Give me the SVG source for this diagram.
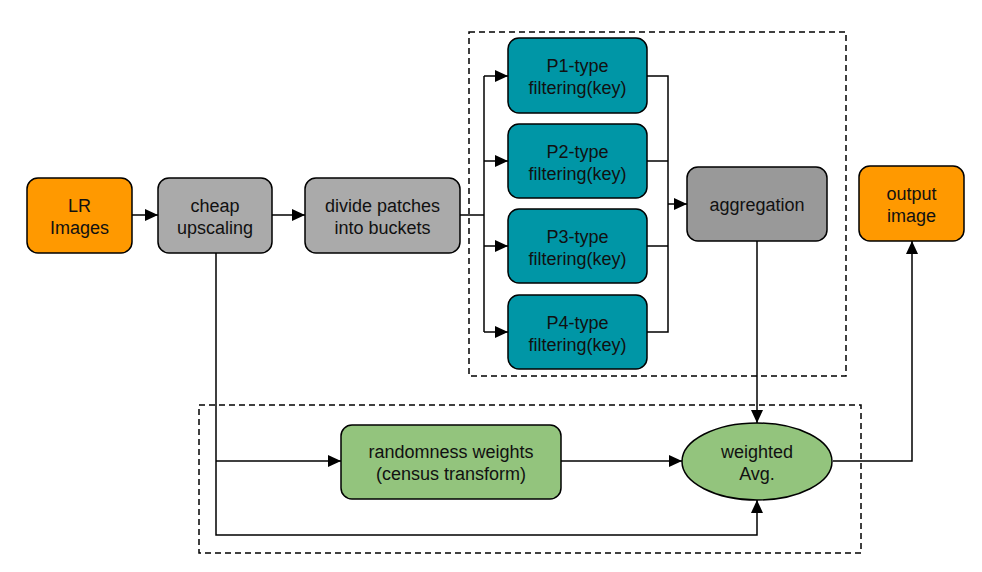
<svg xmlns="http://www.w3.org/2000/svg" width="982" height="572" viewBox="0 0 982 572">
<defs>
<marker id="ah" markerWidth="13" markerHeight="12" refX="13" refY="6" orient="auto" markerUnits="userSpaceOnUse">
<path d="M0,0 L13,6 L0,12 Z" fill="#000"/>
</marker>
<style>
.box{stroke:#000;stroke-width:1.5}
.t{font-family:"Liberation Sans",Arial,sans-serif;font-size:18px;fill:#111;text-anchor:middle}
.c{fill:none;stroke:#000;stroke-width:1.5}
.d{fill:none;stroke:#000;stroke-width:1.5;stroke-dasharray:6,4}
</style>
</defs>
<rect width="982" height="572" fill="#fff"/>
<g id="groups">
<rect class="d" x="469" y="32" width="377" height="344"/>
<rect class="d" x="199" y="405" width="662" height="148"/>
</g>
<g id="connectors">
<path class="c" d="M132,215 H158" marker-end="url(#ah)"/>
<path class="c" d="M272,215 H305" marker-end="url(#ah)"/>
<path class="c" d="M460,215 H484"/>
<path class="c" d="M484,76 V332"/>
<path class="c" d="M484,76 H508" marker-end="url(#ah)"/>
<path class="c" d="M484,161 H508" marker-end="url(#ah)"/>
<path class="c" d="M484,246 H508" marker-end="url(#ah)"/>
<path class="c" d="M484,332 H508" marker-end="url(#ah)"/>
<path class="c" d="M647,76 H668 V332 H647"/>
<path class="c" d="M647,161 H668"/>
<path class="c" d="M647,246 H668"/>
<path class="c" d="M668,204 H687" marker-end="url(#ah)"/>
<path class="c" d="M757,241 V423" marker-end="url(#ah)"/>
<path class="c" d="M216,253 V535 H757 V500" marker-end="url(#ah)"/>
<path class="c" d="M216,461 H341" marker-end="url(#ah)"/>
<path class="c" d="M561,461 H682" marker-end="url(#ah)"/>
<path class="c" d="M833,461 H912 V241" marker-end="url(#ah)"/>
</g>
<g id="lr">
<rect class="box" x="27" y="178" width="105" height="75" rx="11" fill="#FF9900"/>
<text class="t" x="79.5" y="212">LR</text>
<text class="t" x="79.5" y="234">Images</text>
</g>
<g id="cheap">
<rect class="box" x="158" y="178" width="114" height="75" rx="11" fill="#AAAAAA"/>
<text class="t" x="215" y="212">cheap</text>
<text class="t" x="215" y="234">upscaling</text>
</g>
<g id="divide">
<rect class="box" x="305" y="178" width="155" height="75" rx="11" fill="#AAAAAA"/>
<text class="t" x="382.5" y="212">divide patches</text>
<text class="t" x="382.5" y="234">into buckets</text>
</g>
<g id="p1">
<rect class="box" x="508" y="38" width="139" height="75" rx="11" fill="#0096A6"/>
<text class="t" x="577.5" y="72">P1-type</text>
<text class="t" x="577.5" y="94">filtering(key)</text>
</g>
<g id="p2">
<rect class="box" x="508" y="124" width="139" height="74" rx="11" fill="#0096A6"/>
<text class="t" x="577.5" y="158">P2-type</text>
<text class="t" x="577.5" y="180">filtering(key)</text>
</g>
<g id="p3">
<rect class="box" x="508" y="209" width="139" height="74" rx="11" fill="#0096A6"/>
<text class="t" x="577.5" y="243">P3-type</text>
<text class="t" x="577.5" y="265">filtering(key)</text>
</g>
<g id="p4">
<rect class="box" x="508" y="295" width="139" height="74" rx="11" fill="#0096A6"/>
<text class="t" x="577.5" y="329">P4-type</text>
<text class="t" x="577.5" y="351">filtering(key)</text>
</g>
<g id="aggregation">
<rect class="box" x="687" y="167" width="140" height="74" rx="11" fill="#999999"/>
<text class="t" x="757" y="211">aggregation</text>
</g>
<g id="output">
<rect class="box" x="859" y="166" width="105" height="75" rx="11" fill="#FF9900"/>
<text class="t" x="911.5" y="200">output</text>
<text class="t" x="911.5" y="222">image</text>
</g>
<g id="randomness">
<rect class="box" x="341" y="425" width="220" height="74" rx="11" fill="#93C47D"/>
<text class="t" x="451" y="458">randomness weights</text>
<text class="t" x="451" y="480">(census transform)</text>
</g>
<g id="weighted">
<ellipse class="box" cx="757" cy="461.5" rx="75" ry="38.5" fill="#93C47D"/>
<text class="t" x="757" y="458">weighted</text>
<text class="t" x="757" y="480">Avg.</text>
</g>
</svg>
